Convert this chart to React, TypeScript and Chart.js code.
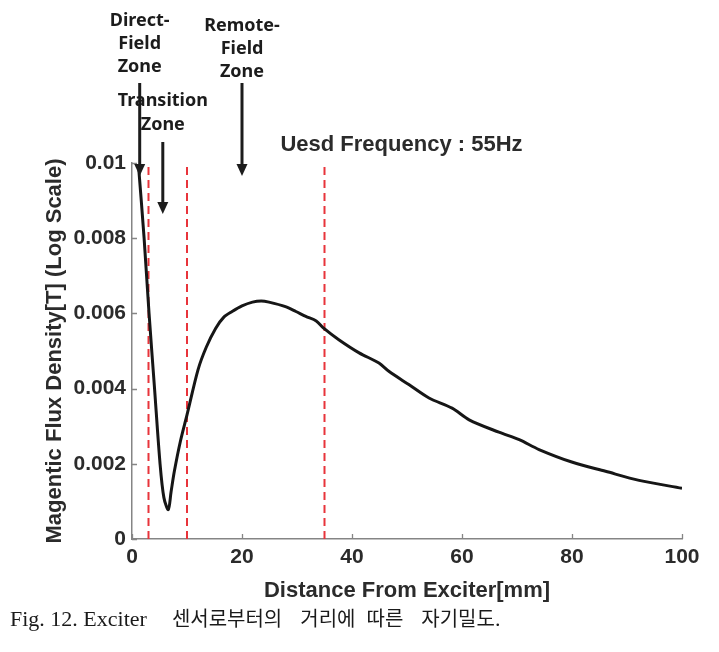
import React, { useEffect, useRef } from 'react';
import { Chart, registerables } from 'chart.js';

Chart.register(...registerables);

// ---- data ----
const distanceMm = [
  1.2, 2.2, 3.1, 4.1, 5.1, 5.8, 6.6, 7.1, 7.7, 8.8, 10.0, 12.0, 13.5, 15.2, 16.7, 18.2, 20,
  21.9, 23.5, 24.9, 27.9, 29.8, 31.6, 33.5, 34.9, 37.6, 41.3, 44.9, 46.7, 50.4, 54, 58.2,
  61.3, 66.7, 70.4, 74, 80.1, 86.1, 92.2, 100,
];
const fluxDensityT = [
  0.0099, 0.008, 0.006, 0.004, 0.002, 0.0011, 0.00078, 0.00125, 0.0018, 0.0026, 0.0033,
  0.0045, 0.0051, 0.0056, 0.0059, 0.00605, 0.0062, 0.0063, 0.00633, 0.0063, 0.00618,
  0.00605, 0.00592, 0.0058, 0.0056, 0.0053, 0.00495, 0.00468, 0.00446, 0.0041, 0.00375,
  0.00348, 0.00317, 0.00284, 0.00264, 0.00238, 0.00204, 0.0018, 0.00156, 0.00135,
];
const zoneBoundariesMm = [3, 10, 35];
const xTickLabels = ['0', '20', '40', '60', '80', '100'];
const yTickLabels = ['0', '0.002', '0.004', '0.006', '0.008', '0.01'];
const zoneLabels = [
  ['Direct-', 'Field', 'Zone'],
  ['Transition', 'Zone'],
  ['Remote-', 'Field', 'Zone'],
];
const zoneArrowMm = [1.4, 5.6, 20];
const frequencyText = 'Uesd Frequency : 55Hz';
const xTitle = 'Distance From Exciter[mm]';
const yTitle = 'Magentic Flux Density[T] (Log Scale)';

// ---- layout / style (pixels) ----
const zoneTextLineY = [
  [21, 44, 67],
  [101, 125],
  [26, 49, 72],
];
const zoneArrowY = [
  [83, 176],
  [142, 214],
  [83, 176],
];
const AXIS_GRAY = '#858585';
const TEXT_DARK = '#2b2b2b';

const annotationPlugin = {
  id: 'annotations',
  afterDraw(chart: any) {
    const ctx = chart.ctx as CanvasRenderingContext2D;
    const xs = chart.scales.x;
    const ys = chart.scales.y;
    const area = chart.chartArea;
    ctx.save();
    // inward tick marks
    ctx.strokeStyle = AXIS_GRAY;
    ctx.lineWidth = 1.3;
    ctx.beginPath();
    xs.ticks.forEach((t: any) => {
      const px = Math.round(xs.getPixelForValue(t.value)) + 0.5;
      ctx.moveTo(px, area.bottom);
      ctx.lineTo(px, area.bottom - 5);
    });
    ys.ticks.forEach((t: any) => {
      const py = Math.round(ys.getPixelForValue(t.value)) + 0.5;
      ctx.moveTo(area.left, py);
      ctx.lineTo(area.left + 5, py);
    });
    ctx.stroke();

    // zone labels & arrows
    ctx.fillStyle = '#1c1c1c';
    ctx.strokeStyle = '#1c1c1c';
    ctx.font = 'bold 18px "Noto Sans", "Open Sans", sans-serif';
    ctx.textAlign = 'center';
    ctx.textBaseline = 'middle';
    zoneLabels.forEach((lines, i) => {
      const cx = xs.getPixelForValue(zoneArrowMm[i]);
      lines.forEach((ln, j) => ctx.fillText(ln, cx, zoneTextLineY[i][j]));
      const [y1, y2] = zoneArrowY[i];
      ctx.lineWidth = 3;
      ctx.beginPath();
      ctx.moveTo(cx, y1);
      ctx.lineTo(cx, y2 - 8);
      ctx.stroke();
      ctx.beginPath();
      ctx.moveTo(cx, y2);
      ctx.lineTo(cx - 5.5, y2 - 12);
      ctx.lineTo(cx + 5.5, y2 - 12);
      ctx.closePath();
      ctx.fill();
    });

    // frequency text
    ctx.fillStyle = TEXT_DARK;
    ctx.font = 'bold 22px "Liberation Sans", Arial, sans-serif';
    ctx.fillText(frequencyText, xs.getPixelForValue(49), 145);
    ctx.restore();
  },
};

function FluxChart() {
  const ref = useRef<HTMLCanvasElement | null>(null);
  useEffect(() => {
    if (!ref.current) return;
    const curve = distanceMm.map((x, i) => ({ x, y: fluxDensityT[i] }));
    const boundaryDatasets = zoneBoundariesMm.map((b) => ({
      data: [
        { x: b, y: 0 },
        { x: b, y: 0.01 },
      ],
      borderColor: '#e8343b',
      borderWidth: 2,
      borderDash: [8, 5],
      pointRadius: 0,
      fill: false,
    }));
    const chart = new Chart(ref.current, {
      type: 'line',
      data: {
        datasets: [
          {
            data: curve,
            borderColor: '#161616',
            borderWidth: 3,
            pointRadius: 0,
            tension: 0.3,
            borderJoinStyle: 'round',
            fill: false,
          } as any,
          ...boundaryDatasets,
        ],
      },
      options: {
        animation: false,
        responsive: false,
        maintainAspectRatio: false,
        layout: { padding: { left: 42, top: 163, right: 37, bottom: 48 } },
        plugins: { legend: { display: false }, tooltip: { enabled: false } },
        scales: {
          x: {
            type: 'linear',
            min: 0,
            max: 100,
            afterFit: (s: any) => {
              s.height = 65;
            },
            grid: { display: false, drawTicks: false },
            border: { display: true, color: AXIS_GRAY, width: 1.5 },
            ticks: {
              stepSize: 20,
              padding: 6,
              color: TEXT_DARK,
              font: { family: '"Liberation Sans", Arial, sans-serif', size: 21, weight: 'bold' },
              callback: (_v: any, i: number) => xTickLabels[i],
            },
            title: {
              display: true,
              text: xTitle,
              color: TEXT_DARK,
              padding: 0,
              font: { family: '"Liberation Sans", Arial, sans-serif', size: 22, weight: 'bold' },
            },
          },
          y: {
            type: 'linear',
            min: 0,
            max: 0.01,
            afterFit: (s: any) => {
              s.width = 90;
            },
            grid: { display: false, drawTicks: false },
            border: { display: true, color: AXIS_GRAY, width: 1.5 },
            ticks: {
              stepSize: 0.002,
              padding: 6,
              color: TEXT_DARK,
              font: { family: '"Liberation Sans", Arial, sans-serif', size: 21, weight: 'bold' },
              callback: (_v: any, i: number) => yTickLabels[i],
            },
            title: {
              display: true,
              text: yTitle,
              color: TEXT_DARK,
              padding: 0,
              font: { family: '"Liberation Sans", Arial, sans-serif', size: 22, weight: 'bold' },
            },
          },
        },
      } as any,
      plugins: [annotationPlugin],
    });
    return () => chart.destroy();
  }, []);
  return <canvas ref={ref} width={719} height={652} style={{ display: 'block' }} />;
}

export default function App() {
  const ko: React.CSSProperties = { fontFamily: '"Noto Sans CJK KR", sans-serif', fontSize: 20 };
  return (
    <div style={{ position: 'fixed', left: 0, top: 0, width: 719, height: 652, background: '#fff' }}>
      <FluxChart />
      <div
        style={{
          position: 'absolute',
          left: 10,
          top: 605,
          whiteSpace: 'nowrap',
          fontFamily: '"Liberation Serif", serif',
          fontSize: 22,
          lineHeight: '26px',
          color: '#1a1a1a',
        }}
      >
        <span>Fig. 12. Exciter</span>
        <span style={{ ...ko, marginLeft: 25 }}>센서로부터의</span>
        <span style={{ ...ko, marginLeft: 18 }}>거리에</span>
        <span style={{ ...ko, marginLeft: 11 }}>따른</span>
        <span style={{ ...ko, marginLeft: 18 }}>자기밀도</span>
        <span>.</span>
      </div>
    </div>
  );
}
